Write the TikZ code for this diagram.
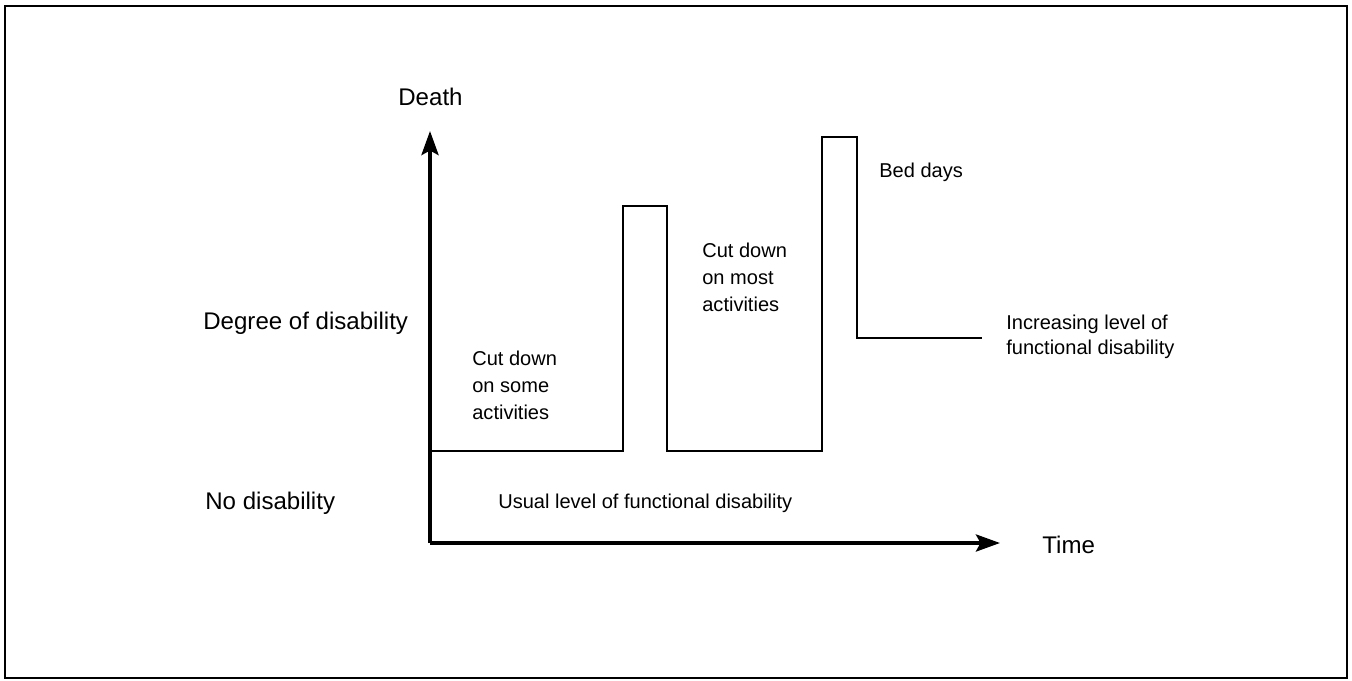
\documentclass[tikz,border=0pt]{standalone}
\usepackage{fontspec}
\setmainfont{Liberation Sans}
\usetikzlibrary{arrows.meta}

\begin{document}
\begin{tikzpicture}[x=0.02cm,y=-0.02cm,
    axis/.style={line width=2.2pt,-{Stealth[length=0.48cm,width=0.34cm,inset=0.09cm]}},
    level/.style={line width=1.5pt},
    biglabel/.style={anchor=west,inner sep=0pt,font=\fontsize{13.7}{16}\selectfont},
    smalllabel/.style={anchor=west,inner sep=0pt,align=left,font=\fontsize{11.4}{15.4}\selectfont}]
            \useasboundingbox (0,0) rectangle (1352,680);
            % Frame
            \draw[line width=1.4pt] (5,6) rectangle (1347,678);
            % Axes
            \coordinate (origin) at (430,543);
            \coordinate (ytip) at (430,131);
            \coordinate (xtip) at (1000,543);
            \draw[axis] (origin) -- (ytip);
            \draw[axis] (origin) -- (xtip);
            \node[biglabel] (death) at (398,97) {Death};
            \node[biglabel] (time) at (1042,545) {Time};
            \node[biglabel] (degree) at (203,323) {Degree of disability};
            \node[biglabel] (nodis) at (205,503) {No disability};
            % Level of disability over time
            \draw[level] (430,451) -- (623,451) -- (623,206) -- (667,206) -- (667,451)
                -- (822,451) -- (822,137) -- (857,137) -- (857,338) -- (982,338);
            % Labels for the steps
            \node[smalllabel] (usual) at (498,503) {Usual level of functional disability};
            \node[smalllabel] (some) at (472,385) {Cut down\\on some\\activities};
            \node[smalllabel] (most) at (702,277) {Cut down\\on most\\activities};
            \node[smalllabel] (bed) at (879,172) {Bed days};
            \node[smalllabel,font=\fontsize{11.4}{13.9}\selectfont] (incr) at (1006,337) {Increasing level of\\functional disability};
        \end{tikzpicture}
\end{document}
